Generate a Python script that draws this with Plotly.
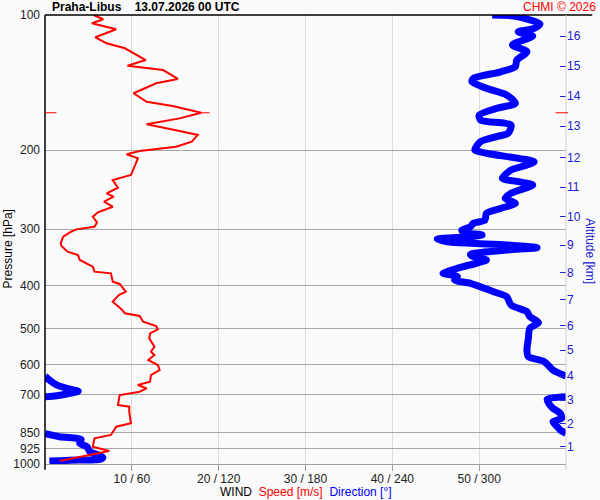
import plotly.graph_objects as go

# ---------------- data ----------------
speed_p = [100, 102.2, 104.3, 107.6, 112.1, 115.6, 118.6, 122.8, 126.0, 129.7, 132.6, 138.8,
           141.9, 149.4, 156.1, 159.5, 165.1, 169.9, 175.2, 181.3, 185.0, 191.5, 196.5, 200.9,
           204.3, 208.6, 217.7, 227.2, 233.1, 242.5, 249.5, 253.9, 260.5, 267.3, 275.1, 281.4,
           289.6, 296.2, 300.2, 303.9, 311.8, 322.5, 327.0, 336.7, 342.4, 351.3, 363.6, 372.9,
           376.1, 392.6, 397.2, 413.3, 420.3, 435.0, 453.9, 461.7, 468.1, 482.0, 492.8, 501.2,
           511.6, 524.8, 548.0, 562.2, 571.8, 586.7, 602.0, 617.6, 633.7, 655.8, 666.8, 678.3,
           690.2, 702.0, 739.0, 745.5, 764.8, 811.7, 825.8, 861.7, 876.5, 915.2, 935.5, 946.7,
           963.3, 984.7]
speed_ms = [5.6, 6.7, 5.4, 8.2, 5.8, 7.1, 9.2, 10.5, 11.6, 9.5, 13.6, 15.3,
            12.8, 10.2, 11.7, 14.7, 18.0, 15.5, 11.7, 15.5, 17.6, 16.9, 15.1, 10.9,
            9.4, 10.7, 10.3, 9.9, 7.8, 8.4, 7.1, 7.9, 6.8, 7.8, 6.1, 5.5,
            6.0, 5.7, 3.6, 3.0, 2.1, 1.8, 1.9, 2.6, 3.8, 4.0, 5.5, 5.7,
            7.6, 7.8, 8.6, 9.3, 8.5, 7.8, 8.9, 9.2, 10.9, 11.3, 12.8, 13.0,
            12.1, 12.0, 12.6, 12.2, 12.6, 11.9, 13.0, 13.2, 12.2, 12.1, 10.7, 11.7,
            10.9, 8.6, 8.4, 9.7, 9.7, 9.9, 8.2, 7.6, 5.7, 5.5, 7.4, 6.1,
            4.0, 1.7]

dir_p = [100, 100.5, 104.7, 107.1, 109.0, 111.4, 116.6, 120.7, 126.0, 130.3, 133.8, 138.4,
         140.8, 145.6, 150.7, 157.3, 161.4, 167.0, 171.4, 175.8, 183.4, 186.6, 191.5, 199.7,
         203.2, 212.2, 215.8, 221.4, 231.1, 235.1, 239.1, 245.4, 249.5, 256.0, 262.7, 269.5,
         276.5, 286.2, 291.0, 296.2, 301.2, 304.8, 309.0, 311.8, 315.5, 319.8, 322.5, 325.3,
         329.8, 333.8, 341.2, 345.4, 351.3, 357.3, 363.6, 372.9, 376.1, 382.6, 389.2, 395.8,
         413.3, 424.0, 442.4, 457.9, 469.7, 484.4, 498.6, 524.8, 557.4, 576.8, 591.7, 617.6,
         636.8, 637.0, 650.1, 666.8, 678.3, 688.8, 698.4, 704.5, 708.1, 708.5, 717.6, 732.5,
         751.6, 771.2, 791.2, 805.2, 825.8, 840.1, 854.3, 856.3, 869.3, 876.5, 881.8, 899.2,
         915.2, 939.0, 955.0, 967.2, 976.2, 979.7, 983.3, 984.7]
dir_deg = [309, 324, 342, 338, 327, 337, 323, 333, 326, 325, 315, 296,
           295, 305, 319, 325, 312, 300, 301, 322, 320, 312, 301, 297,
           305, 338, 333, 322, 316, 327, 337, 328, 322, 318, 325, 315,
           305, 304, 296, 294, 288, 289, 302, 294, 271, 278, 294, 319,
           340, 319, 294, 296, 305, 298, 289, 278, 275, 285, 283, 294,
           310, 319, 322, 333, 335, 341, 335, 334, 333, 334, 345, 351,
           360, 0, 3, 8, 15, 23, 15, 8, 0, 360, 347, 348,
           351, 356, 357, 351, 354, 356, 360, 0, 10, 22, 25, 24,
           29, 31, 37, 40, 38, 24, 10, 3]

p_ticks = [100, 200, 300, 400, 500, 600, 700, 850, 925, 1000]
x_ticks = [10, 20, 30, 40, 50]
x_ticktext = ["10 / 60", "20 / 120", "30 / 180", "40 / 240", "50 / 300"]
alt_km = [str(k) for k in range(1, 17)]
alt_p = [915.2, 813.5, 720.2, 636.8, 557.4, 491.1, 429.8, 375.4,
         325.3, 281.4, 241.9, 207.8, 176.7, 151.5, 129.9, 111.4]

title_text = "Praha-Libus\u00a0\u00a0\u00a0\u00a013.07.2026 00 UTC"
credit_text = "CHMI © 2026"
mxws_label = "MXWS"

# ---------------- build ----------------
FONT = "Liberation Sans, Arial, sans-serif"
BG = "#fafafa"

# direction drawn on the speed scale (360 deg -> 60), break where it wraps
dx, dy = [], []
prev = None
for p, d in zip(dir_p, dir_deg):
    if prev is not None and abs(d - prev) > 180:
        dx.append(None)
        dy.append(None)
    dx.append(d / 6.0)
    dy.append(p)
    prev = d

fig = go.Figure()
fig.add_trace(go.Scatter(x=dx, y=dy, mode="lines", connectgaps=False,
                         line=dict(color="#0000ff", width=7, shape="spline", smoothing=0.7),
                         hoverinfo="skip"))
fig.add_trace(go.Scatter(x=speed_ms, y=speed_p, mode="lines",
                         line=dict(color="#ff0000", width=2), hoverinfo="skip"))
fig.add_trace(go.Scatter(x=[None], y=[None], yaxis="y2", showlegend=False))

imax = speed_ms.index(max(speed_ms))
smax, pmax = speed_ms[imax], speed_p[imax]

shapes = [
    dict(type="line", xref="paper", yref="paper", x0=0, x1=1.0505, y0=1, y1=1,
         line=dict(color="black", width=1.5)),
    dict(type="line", xref="paper", yref="paper", x0=0, x1=0, y0=-0.013, y1=1,
         line=dict(color="black", width=1.5)),
    dict(type="line", xref="paper", yref="paper", x0=1, x1=1, y0=-0.013, y1=1,
         line=dict(color="#d0d0d0", width=1)),
    dict(type="line", xref="paper", yref="y", x0=0, x1=0.022, y0=pmax, y1=pmax,
         line=dict(color="#ff0000", width=1)),
    dict(type="line", xref="paper", yref="y", x0=0.98, x1=1.004, y0=pmax, y1=pmax,
         line=dict(color="#ff0000", width=1)),
    dict(type="line", xref="x", yref="y", x0=smax, x1=smax + 0.95, y0=pmax, y1=pmax,
         line=dict(color="#ff0000", width=1)),
]

annotations = [
    dict(text="<b>" + title_text + "</b>", xref="paper", yref="paper", x=0.0087, y=1.018,
         xanchor="left", yanchor="middle", showarrow=False,
         font=dict(family=FONT, size=12, color="#000")),
    dict(text=credit_text, xref="paper", yref="paper", x=1.0605, y=1.018,
         xanchor="right", yanchor="middle", showarrow=False,
         font=dict(family=FONT, size=12, color="#ff0000")),
    dict(text=mxws_label, xref="x", yref="y", x=smax + 1.2, y=pmax,
         xanchor="left", yanchor="middle", showarrow=False,
         font=dict(family=FONT, size=11, color="#ff4040")),
    dict(text="WIND\u00a0\u00a0<span style='color:#ff0000'>Speed [m/s]</span>\u00a0\u00a0"
              "<span style='color:#0000ff'>Direction [°]</span>",
         xref="paper", yref="paper", x=0.5, y=-0.063, xanchor="center", yanchor="middle",
         showarrow=False, font=dict(family=FONT, size=12, color="#000")),
    dict(text="Pressure [hPa]", xref="paper", yref="paper", x=-0.072, y=0.479,
         xanchor="center", yanchor="middle", textangle=-90, showarrow=False,
         font=dict(family=FONT, size=12, color="#000")),
    dict(text="Altitude [km]", xref="paper", yref="paper", x=1.047, y=0.473,
         xanchor="center", yanchor="middle", textangle=90, showarrow=False,
         font=dict(family=FONT, size=12, color="#2020d0")),
]

fig.update_layout(
    width=600, height=500,
    margin=dict(l=45, r=34, t=15, b=36),
    paper_bgcolor=BG, plot_bgcolor=BG,
    showlegend=False,
    font=dict(family=FONT, size=12, color="#222"),
    xaxis=dict(range=[0, 60], tickvals=x_ticks, ticktext=x_ticktext,
               showgrid=True, gridcolor="#dcdcdc", gridwidth=1, zeroline=False,
               showline=True, linecolor="#a0a0a0", linewidth=1,
               ticks="outside", ticklen=6, tickcolor="#a0a0a0", ticklabelstandoff=-2,
               tickfont=dict(family=FONT, size=12, color="#222"), automargin=False),
    yaxis=dict(type="log", range=[3, 2], tickvals=p_ticks, ticktext=[str(v) for v in p_ticks],
               showgrid=True, gridcolor="#a8a8a8", gridwidth=1, zeroline=False,
               showline=False, ticks="", ticklabelstandoff=4, automargin=False,
               tickfont=dict(family=FONT, size=12, color="#222")),
    yaxis2=dict(type="log", range=[3, 2], overlaying="y", side="right",
                tickvals=alt_p, ticktext=alt_km, showgrid=False, zeroline=False,
                showline=False, ticks="inside", ticklen=6, tickcolor="#2020d0", automargin=False,
                tickfont=dict(family=FONT, size=12, color="#2020d0")),
    shapes=shapes,
    annotations=annotations,
)

# remove the default 8px page margin so the 600x500 figure fills the window
fig.write_html("out.html", config={"displayModeBar": False},
               post_script="document.body.style.margin='0';document.body.style.background='#fafafa';")
